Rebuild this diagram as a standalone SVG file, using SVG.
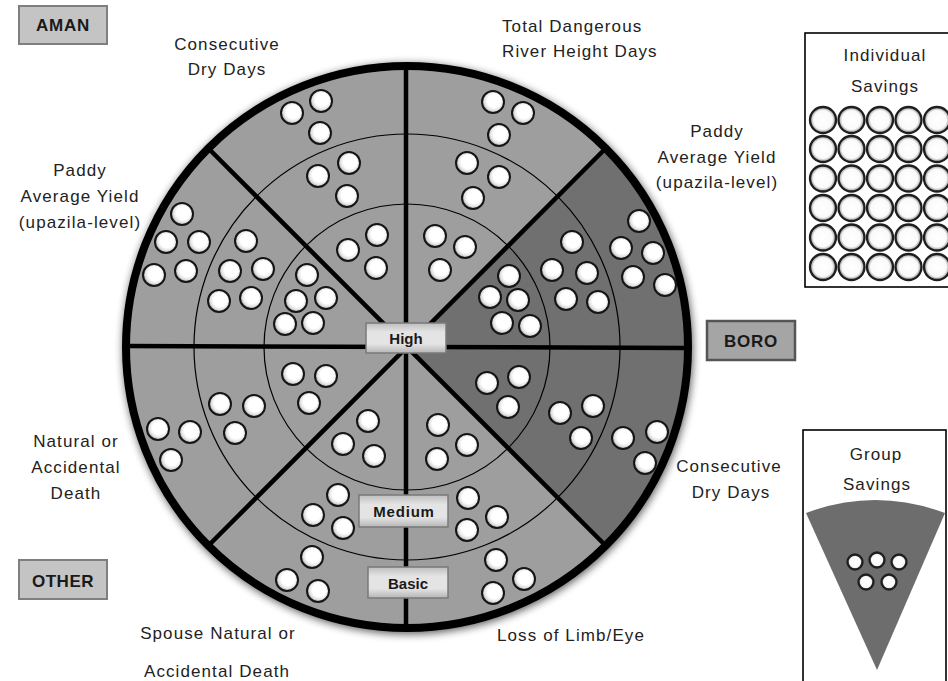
<svg xmlns="http://www.w3.org/2000/svg" xmlns:xlink="http://www.w3.org/1999/xlink" width="948" height="681" viewBox="0 0 948 681">
<style>
  .t { font-family: "Liberation Sans", Arial, sans-serif; font-size: 17px; letter-spacing: 1.1px; fill: #222; }
  .c { text-anchor: middle; }
  .b { font-family: "Liberation Sans", Arial, sans-serif; font-weight: bold; fill: #1a1a1a; text-anchor: middle; }
  .tag { fill: #c4c4c4; stroke: #7f7f7f; stroke-width: 2; }
  .lvl { fill: url(#lg); stroke: #7a7a7a; stroke-width: 1.5; }
  .d { fill: url(#dg); stroke: #151515; stroke-width: 2; }
  .g { fill: url(#gg); stroke: #1e1e1e; stroke-width: 2.3; }
  .div { stroke: #000; stroke-width: 4.5; fill: none; }
  .ring { stroke: #000; stroke-width: 1.2; fill: none; }
  .frame { fill: #fff; stroke: #000; stroke-width: 1.6; }
</style>
<defs>
  <radialGradient id="dg" cx="55%" cy="45%" r="55%">
    <stop offset="0" stop-color="#fff"/>
    <stop offset="0.55" stop-color="#fff"/>
    <stop offset="0.8" stop-color="#e2e2e2"/>
    <stop offset="1" stop-color="#9c9c9c"/>
  </radialGradient>
  <radialGradient id="gg" cx="50%" cy="50%" r="50%">
    <stop offset="0" stop-color="#fff"/>
    <stop offset="0.72" stop-color="#fafafa"/>
    <stop offset="0.86" stop-color="#c4c4c4"/>
    <stop offset="1" stop-color="#7e7e7e"/>
  </radialGradient>
  <linearGradient id="lg" x1="0" y1="0" x2="0" y2="1">
    <stop offset="0" stop-color="#bdbdbd"/>
    <stop offset="0.3" stop-color="#e4e4e4"/>
    <stop offset="0.7" stop-color="#e4e4e4"/>
    <stop offset="1" stop-color="#b5b5b5"/>
  </linearGradient>
  <filter id="sh" x="-10%" y="-10%" width="120%" height="120%">
    <feGaussianBlur stdDeviation="4"/>
  </filter>
</defs>

<rect width="948" height="681" fill="#fff"/>

<!-- wheel background -->
<g id="wheel">
  <circle cx="408" cy="349" r="285" fill="#000" opacity="0.65" filter="url(#sh)"/>
  <circle cx="407" cy="347" r="281" fill="#9e9e9e"/>
  <path d="M407,347 L605.7,148.3 A281,281 0 0 1 605.7,545.7 Z" fill="#707070"/>
</g>

<g id="connectors">
  <circle class="ring" cx="407" cy="347" r="143"/>
  <circle class="ring" cx="407" cy="347" r="213"/>
  <line class="div" x1="406" y1="66" x2="406" y2="628"/>
  <line class="div" x1="126" y1="346" x2="688" y2="348"/>
  <line class="div" x1="208" y1="148" x2="606" y2="546"/>
  <line class="div" x1="606" y1="148" x2="208" y2="546"/>
  <circle cx="407" cy="347" r="281" fill="none" stroke="#000" stroke-width="8"/>
</g>

<g id="sector-aman-dry-days">
  <circle class="d" cx="292" cy="113" r="11"/><circle class="d" cx="321" cy="101" r="11"/><circle class="d" cx="320" cy="133" r="11"/>
  <circle class="d" cx="318" cy="176" r="11"/><circle class="d" cx="349" cy="163" r="11"/><circle class="d" cx="347" cy="196" r="11"/>
  <circle class="d" cx="348" cy="250" r="11"/><circle class="d" cx="377" cy="235" r="11"/><circle class="d" cx="376" cy="268" r="11"/>
</g>
<g id="sector-aman-river">
  <circle class="d" cx="493" cy="102" r="11"/><circle class="d" cx="523" cy="113" r="11"/><circle class="d" cx="499" cy="135" r="11"/>
  <circle class="d" cx="467" cy="163" r="11"/><circle class="d" cx="499" cy="177" r="11"/><circle class="d" cx="473" cy="198" r="11"/>
  <circle class="d" cx="435" cy="236" r="11"/><circle class="d" cx="465" cy="247" r="11"/><circle class="d" cx="440" cy="270" r="11"/>
</g>
<g id="sector-aman-yield">
  <circle class="d" cx="182" cy="214" r="11"/><circle class="d" cx="166" cy="242" r="11"/><circle class="d" cx="199" cy="242" r="11"/><circle class="d" cx="154" cy="275" r="11"/><circle class="d" cx="186" cy="271" r="11"/>
  <circle class="d" cx="246" cy="241" r="11"/><circle class="d" cx="230" cy="271" r="11"/><circle class="d" cx="263" cy="269" r="11"/><circle class="d" cx="219" cy="301" r="11"/><circle class="d" cx="251" cy="298" r="11"/>
  <circle class="d" cx="307" cy="275" r="11"/><circle class="d" cx="296" cy="301" r="11"/><circle class="d" cx="326" cy="298" r="11"/><circle class="d" cx="285" cy="324" r="11"/><circle class="d" cx="313" cy="323" r="11"/>
</g>
<g id="sector-boro-yield">
  <circle class="d" cx="639" cy="221" r="11"/><circle class="d" cx="621" cy="248" r="11"/><circle class="d" cx="653" cy="253" r="11"/><circle class="d" cx="633" cy="277" r="11"/><circle class="d" cx="665" cy="285" r="11"/>
  <circle class="d" cx="572" cy="242" r="11"/><circle class="d" cx="552" cy="270" r="11"/><circle class="d" cx="587" cy="273" r="11"/><circle class="d" cx="566" cy="299" r="11"/><circle class="d" cx="598" cy="302" r="11"/>
  <circle class="d" cx="509" cy="276" r="11"/><circle class="d" cx="490" cy="297" r="11"/><circle class="d" cx="518" cy="300" r="11"/><circle class="d" cx="502" cy="323" r="11"/><circle class="d" cx="530" cy="326" r="11"/>
</g>
<g id="sector-boro-dry-days">
  <circle class="d" cx="487" cy="383" r="11"/><circle class="d" cx="519" cy="377" r="11"/><circle class="d" cx="508" cy="407" r="11"/>
  <circle class="d" cx="560" cy="413" r="11"/><circle class="d" cx="593" cy="406" r="11"/><circle class="d" cx="581" cy="438" r="11"/>
  <circle class="d" cx="623" cy="438" r="11"/><circle class="d" cx="657" cy="432" r="11"/><circle class="d" cx="645" cy="463" r="11"/>
</g>
<g id="sector-other-death">
  <circle class="d" cx="293" cy="374" r="11"/><circle class="d" cx="326" cy="376" r="11"/><circle class="d" cx="309" cy="403" r="11"/>
  <circle class="d" cx="220" cy="404" r="11"/><circle class="d" cx="254" cy="406" r="11"/><circle class="d" cx="235" cy="433" r="11"/>
  <circle class="d" cx="158" cy="429" r="11"/><circle class="d" cx="190" cy="432" r="11"/><circle class="d" cx="171" cy="460" r="11"/>
</g>
<g id="sector-other-spouse">
  <circle class="d" cx="368" cy="421" r="11"/><circle class="d" cx="343" cy="444" r="11"/><circle class="d" cx="374" cy="456" r="11"/>
  <circle class="d" cx="338" cy="495" r="11"/><circle class="d" cx="313" cy="515" r="11"/><circle class="d" cx="343" cy="528" r="11"/>
  <circle class="d" cx="312" cy="557" r="11"/><circle class="d" cx="287" cy="580" r="11"/><circle class="d" cx="318" cy="591" r="11"/>
</g>
<g id="sector-other-limb">
  <circle class="d" cx="438" cy="425" r="11"/><circle class="d" cx="467" cy="445" r="11"/><circle class="d" cx="437" cy="459" r="11"/>
  <circle class="d" cx="468" cy="498" r="11"/><circle class="d" cx="497" cy="517" r="11"/><circle class="d" cx="467" cy="530" r="11"/>
  <circle class="d" cx="496" cy="560" r="11"/><circle class="d" cx="524" cy="579" r="11"/><circle class="d" cx="493" cy="593" r="11"/>
</g>

<g id="level-high">
  <rect class="lvl" x="366" y="323" width="80" height="30"/>
  <text class="b" x="406" y="344" font-size="15">High</text>
</g>
<g id="level-medium">
  <rect class="lvl" x="359" y="495" width="89" height="32"/>
  <text class="b" x="404" y="517" font-size="15" letter-spacing="0.8">Medium</text>
</g>
<g id="level-basic">
  <rect class="lvl" x="368" y="567" width="80" height="31"/>
  <text class="b" x="408" y="589" font-size="15">Basic</text>
</g>

<g id="tag-aman">
  <rect class="tag" x="19" y="6" width="88" height="38"/>
  <text class="b" x="63" y="31" font-size="17" letter-spacing="0.8">AMAN</text>
</g>
<g id="tag-boro">
  <rect x="707" y="321" width="88" height="39" fill="#a5a5a5" stroke="#555" stroke-width="2.5"/>
  <text class="b" x="751" y="347" font-size="17" letter-spacing="0.8">BORO</text>
</g>
<g id="tag-other">
  <rect class="tag" x="19" y="560" width="88" height="39"/>
  <text class="b" x="63" y="587" font-size="17" letter-spacing="0.5">OTHER</text>
</g>

<g id="label-aman-dry-days">
  <text class="t c" x="227" y="50">Consecutive</text>
  <text class="t c" x="227" y="75">Dry Days</text>
</g>
<g id="label-aman-river">
  <text class="t" x="502" y="32">Total Dangerous</text>
  <text class="t" x="502" y="57">River Height Days</text>
</g>
<g id="label-aman-yield">
  <text class="t c" x="80" y="176">Paddy</text>
  <text class="t c" x="80" y="202">Average Yield</text>
  <text class="t c" x="80" y="228">(upazila-level)</text>
</g>
<g id="label-boro-yield">
  <text class="t c" x="717" y="137">Paddy</text>
  <text class="t c" x="717" y="163">Average Yield</text>
  <text class="t c" x="717" y="188">(upazila-level)</text>
</g>
<g id="label-boro-dry-days">
  <text class="t c" x="729" y="472">Consecutive</text>
  <text class="t c" x="731" y="498">Dry Days</text>
</g>
<g id="label-other-death">
  <text class="t c" x="76" y="447">Natural or</text>
  <text class="t c" x="76" y="473">Accidental</text>
  <text class="t c" x="76" y="499">Death</text>
</g>
<g id="label-other-spouse">
  <text class="t c" x="218" y="639">Spouse Natural or</text>
  <text class="t c" x="217" y="677">Accidental Death</text>
</g>
<g id="label-other-limb">
  <text class="t c" x="571" y="641">Loss of Limb/Eye</text>
</g>

<g id="individual-savings">
  <rect class="frame" x="805" y="33" width="160" height="254"/>
  <text class="t c" x="885" y="61">Individual</text>
  <text class="t c" x="885" y="92">Savings</text>
  <g>
    <circle class="g" cx="823" cy="120" r="13"/><circle class="g" cx="851.5" cy="120" r="13"/><circle class="g" cx="880" cy="120" r="13"/><circle class="g" cx="908.5" cy="120" r="13"/><circle class="g" cx="937" cy="120" r="13"/>
    <circle class="g" cx="823" cy="149" r="13"/><circle class="g" cx="851.5" cy="149" r="13"/><circle class="g" cx="880" cy="149" r="13"/><circle class="g" cx="908.5" cy="149" r="13"/><circle class="g" cx="937" cy="149" r="13"/>
    <circle class="g" cx="823" cy="178.5" r="13"/><circle class="g" cx="851.5" cy="178.5" r="13"/><circle class="g" cx="880" cy="178.5" r="13"/><circle class="g" cx="908.5" cy="178.5" r="13"/><circle class="g" cx="937" cy="178.5" r="13"/>
    <circle class="g" cx="823" cy="208" r="13"/><circle class="g" cx="851.5" cy="208" r="13"/><circle class="g" cx="880" cy="208" r="13"/><circle class="g" cx="908.5" cy="208" r="13"/><circle class="g" cx="937" cy="208" r="13"/>
    <circle class="g" cx="823" cy="237.5" r="13"/><circle class="g" cx="851.5" cy="237.5" r="13"/><circle class="g" cx="880" cy="237.5" r="13"/><circle class="g" cx="908.5" cy="237.5" r="13"/><circle class="g" cx="937" cy="237.5" r="13"/>
    <circle class="g" cx="823" cy="267" r="13"/><circle class="g" cx="851.5" cy="267" r="13"/><circle class="g" cx="880" cy="267" r="13"/><circle class="g" cx="908.5" cy="267" r="13"/><circle class="g" cx="937" cy="267" r="13"/>
  </g>
</g>

<g id="group-savings">
  <rect class="frame" x="803" y="430" width="143" height="260"/>
  <text class="t c" x="876" y="460">Group</text>
  <text class="t c" x="877" y="490">Savings</text>
  <path d="M806,513 Q875,487 945,513 L877,670 Z" fill="#6d6d6d"/>
  <circle class="g" cx="855" cy="562" r="7.5"/><circle class="g" cx="877" cy="560" r="7.5"/><circle class="g" cx="899" cy="562" r="7.5"/>
  <circle class="g" cx="866" cy="582" r="7.5"/><circle class="g" cx="889" cy="582" r="7.5"/>
</g>
</svg>
